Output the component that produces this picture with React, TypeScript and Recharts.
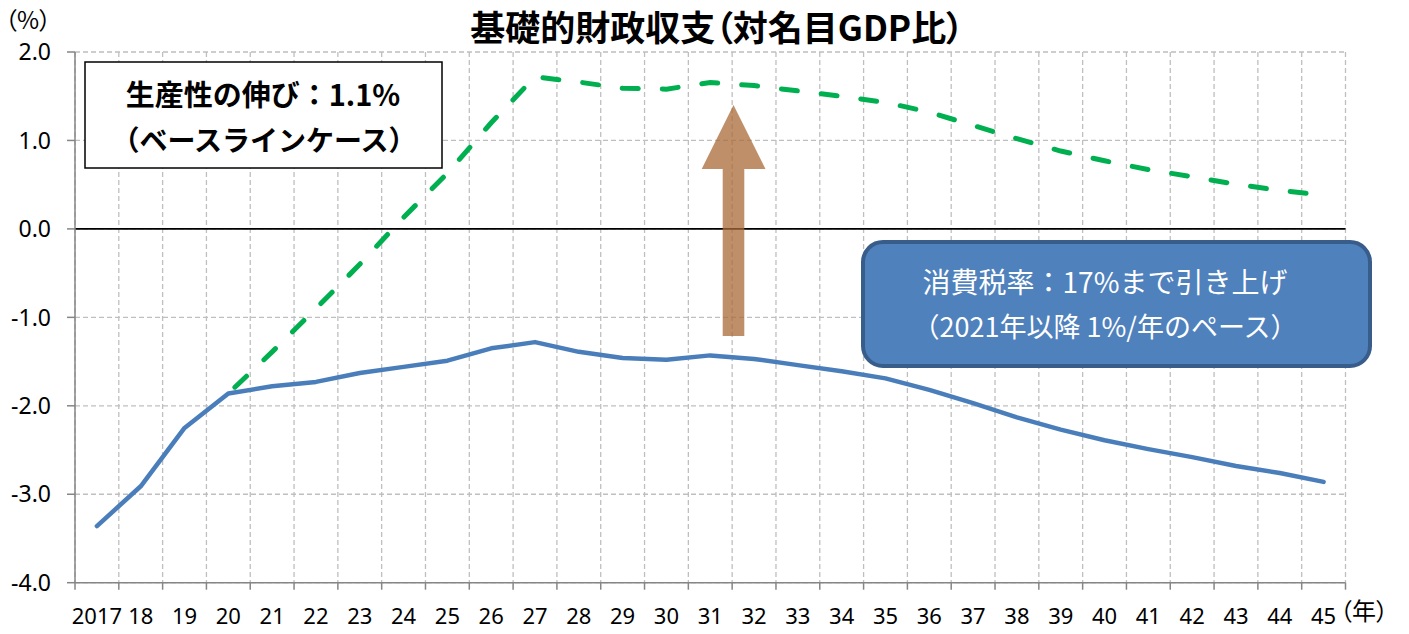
import { CartesianGrid, Line, LineChart, ReferenceLine, XAxis, YAxis } from "recharts";

const YEARS = [
  2017, 2018, 2019, 2020, 2021, 2022, 2023, 2024, 2025, 2026, 2027, 2028, 2029, 2030, 2031,
  2032, 2033, 2034, 2035, 2036, 2037, 2038, 2039, 2040, 2041, 2042, 2043, 2044, 2045,
];

// ベースライン（青）
const BASELINE = [
  -3.36, -2.91, -2.25, -1.86, -1.78, -1.73, -1.63, -1.56, -1.49, -1.35, -1.28, -1.39, -1.46,
  -1.48, -1.43, -1.47, -1.54, -1.61, -1.69, -1.82, -1.97, -2.13, -2.27, -2.39, -2.49, -2.58,
  -2.68, -2.76, -2.86,
];

// 消費税率17%まで引き上げ（緑・破線）
const TAX_HIKE: (number | null)[] = [
  null, null, null, -1.86, -1.39, -0.9, -0.4, 0.13, 0.63, 1.2, 1.72, 1.66, 1.59, 1.58, 1.655,
  1.62, 1.56, 1.5, 1.43, 1.32, 1.17, 1.02, 0.88, 0.77, 0.67, 0.59, 0.505, 0.435, 0.38,
];

const Y_TICKS = [-4, -3, -2, -1, 0, 1, 2];

// 目盛線は年の境目
const BOUNDS = [...YEARS.map((y) => y - 0.5), YEARS[YEARS.length - 1] + 0.5];

const data = YEARS.map((year, i) => ({
  year,
  baseline: BASELINE[i],
  taxHike: TAX_HIKE[i],
}));

const W = 1409;
const H = 634;
const PLOT_LEFT = 75;
const PLOT_RIGHT = 1345.5;
const HALF_BAND = (PLOT_RIGHT - PLOT_LEFT) / YEARS.length / 2;

const NUM_FONT = "'Noto Sans', sans-serif";
const JP_FONT = "'Noto Sans CJK JP', sans-serif";

function YearTick(props: any) {
  const { x, y, payload } = props;
  const year = payload.value + 0.5;
  if (year > YEARS[YEARS.length - 1]) return <g />;
  const label = year === YEARS[0] ? String(year) : String(year).slice(2);
  return (
    <text
      x={x + HALF_BAND}
      y={y}
      dy="0.71em"
      textAnchor="middle"
      fill="#000"
      fontSize={22}
      fontFamily={NUM_FONT}
    >
      {label}
    </text>
  );
}

function Annotations() {
  return (
    <svg
      width={W}
      height={H}
      style={{ position: "absolute", left: 0, top: 0, pointerEvents: "none" }}
    >
      <text
        x={717}
        y={41}
        textAnchor="middle"
        fontFamily={JP_FONT}
        fontWeight={700}
        fontSize={35}
        fill="#000"
        style={{ fontFeatureSettings: '"palt"' }}
      >
        基礎的財政収支（対名目GDP比）
      </text>
      <text
        x={5}
        y={29}
        fontFamily={JP_FONT}
        fontSize={24}
        fill="#000"
        style={{ fontFeatureSettings: '"palt"' }}
      >
        （%）
      </text>
      <text
        x={1340}
        y={620}
        fontFamily={JP_FONT}
        fontSize={24}
        fill="#000"
        style={{ fontFeatureSettings: '"palt"' }}
      >
        （年）
      </text>

      <rect x={85} y={62} width={357} height={106} fill="#fff" stroke="#000" strokeWidth={1.5} />
      <text x={263} y={106} textAnchor="middle" fontFamily={JP_FONT} fontWeight={700} fontSize={29}>
        生産性の伸び：1.1%
      </text>
      <text x={264} y={151} textAnchor="middle" fontFamily={JP_FONT} fontWeight={700} fontSize={28}>
        （ベースラインケース）
      </text>

      <polygon
        points="733.5,105 765.5,169 744.3,169 744.3,336 722.7,336 722.7,169 701.7,169"
        fill="#a86a36"
        fillOpacity={0.75}
      />

      <rect
        x={863}
        y={242}
        width={507}
        height={124}
        rx={20}
        fill="#4f81bd"
        stroke="#385d8a"
        strokeWidth={4}
      />
      <text x={1105} y={293} textAnchor="middle" fontFamily={JP_FONT} fontSize={28} fill="#fff">
        消費税率：17%まで引き上げ
      </text>
      <text x={1105} y={337} textAnchor="middle" fontFamily={JP_FONT} fontSize={27} fill="#fff">
        （2021年以降 1%/年のペース）
      </text>
    </svg>
  );
}

export default function App() {
  return (
    <div style={{ position: "absolute", left: 0, top: 0, width: W, height: H, background: "#fff" }}>
      <LineChart
        width={W}
        height={H}
        data={data}
        margin={{ top: 52, right: W - PLOT_RIGHT, bottom: 0, left: 0 }}
      >
        <CartesianGrid stroke="#bfbfbf" strokeDasharray="5 3" strokeWidth={1.3} />
        <XAxis
          dataKey="year"
          type="number"
          domain={[BOUNDS[0], BOUNDS[BOUNDS.length - 1]]}
          ticks={BOUNDS}
          interval={0}
          height={51.3}
          tickSize={7}
          tickMargin={19}
          tick={<YearTick />}
          stroke="#868686"
          strokeWidth={1.5}
        />
        <YAxis
          type="number"
          domain={[-4, 2]}
          ticks={Y_TICKS}
          interval={0}
          width={PLOT_LEFT}
          tickSize={8}
          tickMargin={16}
          tickFormatter={(v: number) => v.toFixed(1)}
          tick={{ fill: "#000", fontSize: 23, fontFamily: NUM_FONT }}
          stroke="#868686"
          strokeWidth={1.5}
        />
        <ReferenceLine y={0} stroke="#000" strokeWidth={1.6} />
        <Line
          dataKey="baseline"
          stroke="#4a7ebb"
          strokeWidth={4.5}
          strokeLinecap="round"
          strokeLinejoin="round"
          dot={false}
          activeDot={false}
          isAnimationActive={false}
        />
        <Line
          dataKey="taxHike"
          stroke="#00b050"
          strokeWidth={5}
          strokeDasharray="16 24"
          strokeDashoffset={31}
          strokeLinecap="round"
          dot={false}
          activeDot={false}
          isAnimationActive={false}
        />
      </LineChart>
      <Annotations />
    </div>
  );
}
